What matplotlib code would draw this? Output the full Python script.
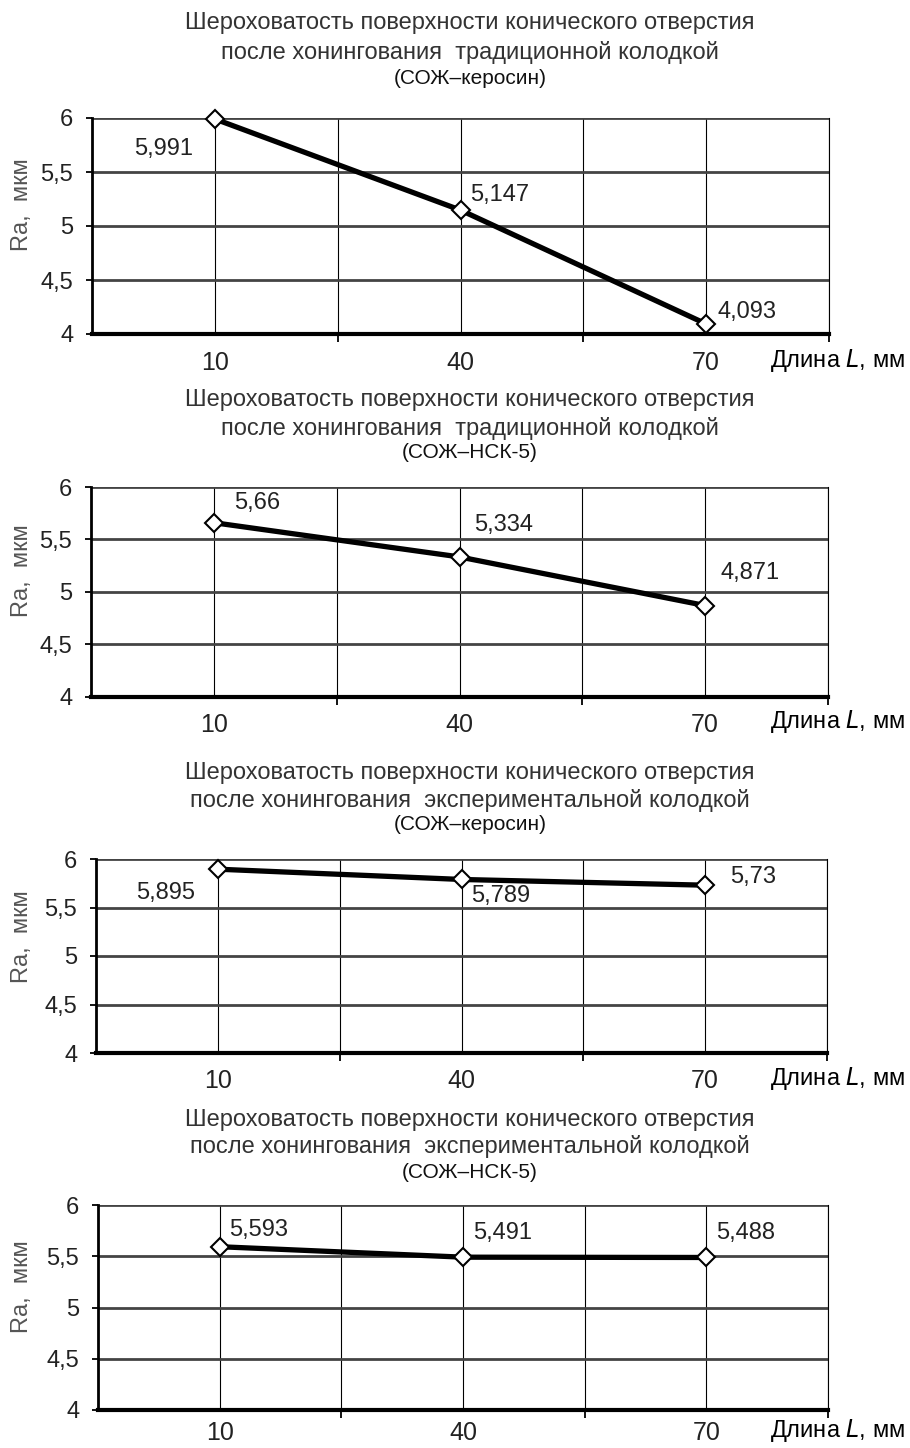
import matplotlib
matplotlib.use('Agg')
import matplotlib.pyplot as plt
from matplotlib.ticker import FixedLocator, FuncFormatter

plt.rcParams['font.family'] = ['Liberation Sans Narrow', 'Liberation Sans', 'DejaVu Sans']

# data
lengths = ['10', '40', '70']
ra_trad_kero = [5.991, 5.147, 4.093]
ra_trad_nsk = [5.66, 5.334, 4.871]
ra_exp_kero = [5.895, 5.789, 5.73]
ra_exp_nsk = [5.593, 5.491, 5.488]
y_ticks = [4, 4.5, 5, 5.5, 6]

title_main = 'Шероховатость поверхности конического отверстия'
titles = [
    ('после хонингования  традиционной колодкой', '(СОЖ–керосин)'),
    ('после хонингования  традиционной колодкой', '(СОЖ–НСК-5)'),
    ('после хонингования  экспериментальной колодкой', '(СОЖ–керосин)'),
    ('после хонингования  экспериментальной колодкой', '(СОЖ–НСК-5)'),
]
series = [ra_trad_kero, ra_trad_nsk, ra_exp_kero, ra_exp_nsk]

# label offsets in pixels (dx, dy) for each point
offsets = [
    [(-51, -30), (39, 15), (41, 12)],
    [(43, 20), (44, 32), (45, 33)],
    [(-52, -24), (39, -17), (48, 8)],
    [(39, 17), (40, 24), (39, 24)],
]

# axes boxes in pixels: left, top, right, bottom
boxes = [
    (92, 118, 829, 334),
    (91, 487, 828, 697),
    (96, 859, 827, 1053),
    (98, 1205, 828, 1410),
]
title_y = [(23, 53, 78), (400, 428, 453), (773, 800, 825), (1120, 1147, 1172)]
tick_gap = [29, 28, 28, 23]

W, H = 910, 1448
fig = plt.figure(figsize=(W / 100, H / 100), dpi=100)
px = 72 / 100

for i, vals in enumerate(series):
    l, t, r, b = boxes[i]
    ax = fig.add_axes([l / W, 1 - b / H, (r - l) / W, (b - t) / H])
    x = list(range(len(lengths)))
    ax.plot(x, vals, color='black', lw=3.8, marker='D', markersize=9.5,
            markerfacecolor='white', markeredgecolor='black', markeredgewidth=1.5,
            zorder=5, clip_on=False)
    ax.set_xlim(-0.5, 2.5)
    ax.set_ylim(4, 6)

    ax.xaxis.set_major_locator(FixedLocator(x))
    ax.xaxis.set_minor_locator(FixedLocator([0.5, 1.5, 2.5]))
    ax.set_xticklabels([])
    ax.tick_params(axis='x', which='major', length=0)
    ax.tick_params(axis='x', which='minor', length=6, width=1.3, direction='out')
    ax.grid(True, axis='x', which='both', color='black', lw=0.8)

    ax.yaxis.set_major_locator(FixedLocator(y_ticks))
    ax.yaxis.set_major_formatter(FuncFormatter(lambda v, p: ('%g' % v).replace('.', ',')))
    ax.tick_params(axis='y', length=4.5, width=1.3, direction='out', pad=9,
                   labelsize=17, labelcolor='#222')
    ax.grid(True, axis='y', color='#444444', lw=2.0)
    ax.set_axisbelow(True)

    ax.spines['top'].set_visible(False)
    ax.spines['right'].set_linewidth(0.8)
    ax.spines['left'].set_linewidth(2)
    ax.spines['bottom'].set_linewidth(3)

    ax.set_ylabel('Ra,  мкм', fontsize=17, color='#555')
    ax.yaxis.set_label_coords(-(l - 33) / (r - l), 0.6)

    # x category labels
    ty = b + tick_gap[i]
    for xi, lab in zip(x, lengths):
        xd = ax.transData.transform((xi, 4))[0]
        fig.text(xd / W, 1 - ty / H, lab, ha='center', va='center',
                 fontsize=18, color='#222')
    fig.text(905 / W, 1 - (ty - 3) / H, 'Длина $\\it{L}$, мм', ha='right',
             va='center', fontsize=17, color='black')

    # value labels
    for xi, v, (dx, dy) in zip(x, vals, offsets[i]):
        ax.annotate(str(v).replace('.', ','), (xi, v), xytext=(dx * px, dy * px),
                    textcoords='offset points', ha='center', va='center',
                    fontsize=17, color='#222', zorder=6)

    ty1, ty2, ty3 = title_y[i]
    cx = 470 / W
    fig.text(cx, 1 - ty1 / H, title_main, ha='center', va='center', fontsize=17, color='#333')
    fig.text(cx, 1 - ty2 / H, titles[i][0], ha='center', va='center', fontsize=17, color='#333')
    fig.text(cx, 1 - ty3 / H, titles[i][1], ha='center', va='center', fontsize=15, color='#111')

fig.savefig('out.png', dpi=100)
